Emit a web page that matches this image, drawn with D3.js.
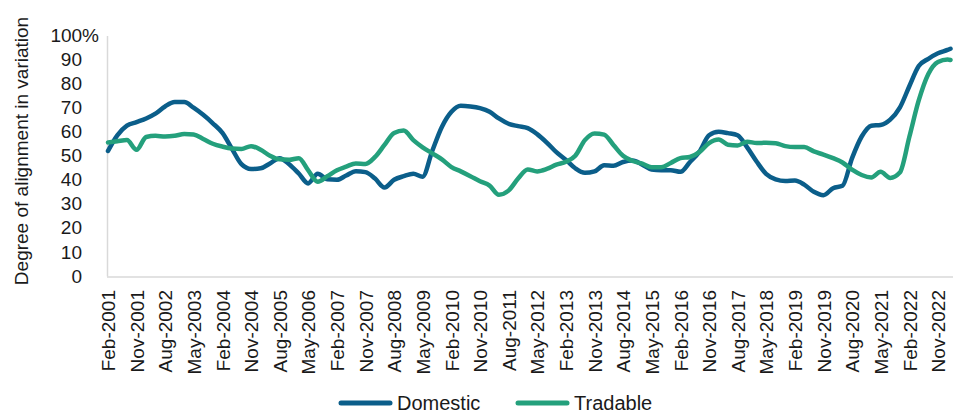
<!DOCTYPE html>
<html>
<head>
<meta charset="utf-8">
<script src="https://cdn.jsdelivr.net/npm/d3@7"></script>
<style>
  body { margin: 0; background: #fff; }
  text { font-family: "Liberation Sans", Arial, sans-serif; fill: #1a1a1a; }
</style>
</head>
<body>
<script>
const width = 959;
const height = 414;

// quarterly readings, Feb-2001 .. Feb-2023, then Mar-2023
const dates = d3.utcMonth.range(new Date(Date.UTC(2001, 1, 1)), new Date(Date.UTC(2023, 2, 1)), 3)
  .concat([new Date(Date.UTC(2023, 2, 1))]);

const domestic = [
  52, 58.5, 62.5, 64, 65.5, 67.5, 70.5, 72.3, 72.3, 70, 67, 63.5, 59.5,
  53, 46.5, 44.5, 44.8, 46.8, 49, 46.5, 42.6, 38.5, 42.5, 40.2, 40, 41.8,
  43.6, 43.2, 40.5, 36.8, 40, 41.5, 42.5, 41.3, 52, 62, 68.3, 70.8, 70.5,
  69.8, 68.3, 65.5, 63.3, 62.3, 61.5, 59, 55.5, 51.5, 48.3, 44.8, 42.9, 43.5,
  46, 45.8, 47.4, 48, 46.3, 44.3, 44, 44, 43.3, 47.3, 51.7, 58.5, 60,
  59.4, 58.5, 53.5, 47.5, 42.5, 40.2, 39.5, 39.7, 38, 35, 33.6, 36.5, 37.5,
  49, 58, 62.5, 62.8, 65, 70, 79, 87.3, 90.3, 92.6, 94, 94.5
];

const tradable = [
  55.5, 56, 56.5, 52.5, 57.8, 58.3, 58, 58.3, 59, 58.8, 57, 55, 53.8,
  53, 52.8, 54, 52.5, 50, 48.5, 48.3, 49, 44, 39.2, 41.5, 44, 45.5,
  46.8, 46.6, 49.5, 54.5, 59.5, 60.5, 56.5, 53.5, 51, 48.5, 45.3, 43.5, 41.5,
  39.4, 37.6, 33.8, 35.5, 40.5, 44.3, 43.5, 44.5, 46.3, 47.5, 50, 56.5, 59.3,
  58.8, 54.5, 50, 47.8, 46.7, 45.2, 45.2, 47, 49, 49.5, 51.5, 55.3, 56.8,
  54.6, 54.3, 55.8, 55.3, 55.4, 55.2, 54, 53.6, 53.6, 51.8, 50.5, 49, 47.2,
  44.2, 42, 41, 43.3, 40.8, 43, 58, 73, 84, 89, 90, 89.8
];

const seriesNames = ["Domestic", "Tradable"];
const colors = ["#0b5e8a", "#24a07c"];
const yTicks = [0, 10, 20, 30, 40, 50, 60, 70, 80, 90, 100];
const xTicks = d3.utcMonth.range(new Date(Date.UTC(2001, 1, 1)), new Date(Date.UTC(2023, 0, 1)), 9);

const svg = d3.select("body")
  .append("svg")
  .attr("width", width)
  .attr("height", height);

const x = d3.scaleUtc()
  .domain([dates[0], dates[dates.length - 1]])
  .range([108, 950.5]);

const y = d3.scaleLinear()
  .domain([0, 100])
  .range([276, 35.5]);

// axes
const xAxis = svg.append("g")
  .attr("transform", "translate(0,277)")
  .call(d3.axisBottom(x).tickValues(xTicks).tickFormat(d3.utcFormat("%b-%Y")).tickSize(0));

xAxis.select(".domain")
  .attr("stroke", "#d9d9d9")
  .attr("stroke-width", 1.5)
  .attr("d", "M107,0H953");

xAxis.selectAll("text")
  .attr("transform", "rotate(-90)")
  .attr("text-anchor", "end")
  .attr("x", -13)
  .attr("y", 0)
  .attr("dy", "0.35em")
  .style("font-size", "19px");

const yAxis = svg.append("g")
  .attr("transform", "translate(107,0)")
  .call(d3.axisLeft(y).tickValues(yTicks).tickFormat((d) => (d === 100 ? "100%" : d)).tickSize(0));

yAxis.select(".domain")
  .attr("stroke", "#d9d9d9")
  .attr("stroke-width", 1.5);

yAxis.selectAll("text")
  .attr("x", -25)
  .style("font-size", "19px")
  .filter((d) => d === 100)
  .attr("dx", 17);

svg.selectAll(".tick text").attr("fill", "#1a1a1a");

svg.append("text")
  .attr("transform", "translate(28,151) rotate(-90)")
  .attr("text-anchor", "middle")
  .style("font-size", "19px")
  .text("Degree of alignment in variation");

// lines
const line = d3.line()
  .x((d, i) => x(dates[i]))
  .y((d) => y(d))
  .curve(d3.curveMonotoneX);

svg.append("g")
  .selectAll("path")
  .data([domestic, tradable])
  .join("path")
  .attr("d", line)
  .attr("fill", "none")
  .attr("stroke", (d, i) => colors[i])
  .attr("stroke-width", 4.5)
  .attr("stroke-linejoin", "round")
  .attr("stroke-linecap", "round");

// legend
const legend = svg.append("g")
  .selectAll("g")
  .data(seriesNames)
  .join("g")
  .attr("transform", (d, i) => `translate(${[341, 518][i]},403)`);

legend.append("line")
  .attr("x1", 0)
  .attr("x2", 49)
  .attr("stroke", (d, i) => colors[i])
  .attr("stroke-width", 5)
  .attr("stroke-linecap", "round");

legend.append("text")
  .attr("x", 56)
  .attr("dy", "0.36em")
  .style("font-size", "20px")
  .text((d) => d);
</script>
</body>
</html>
